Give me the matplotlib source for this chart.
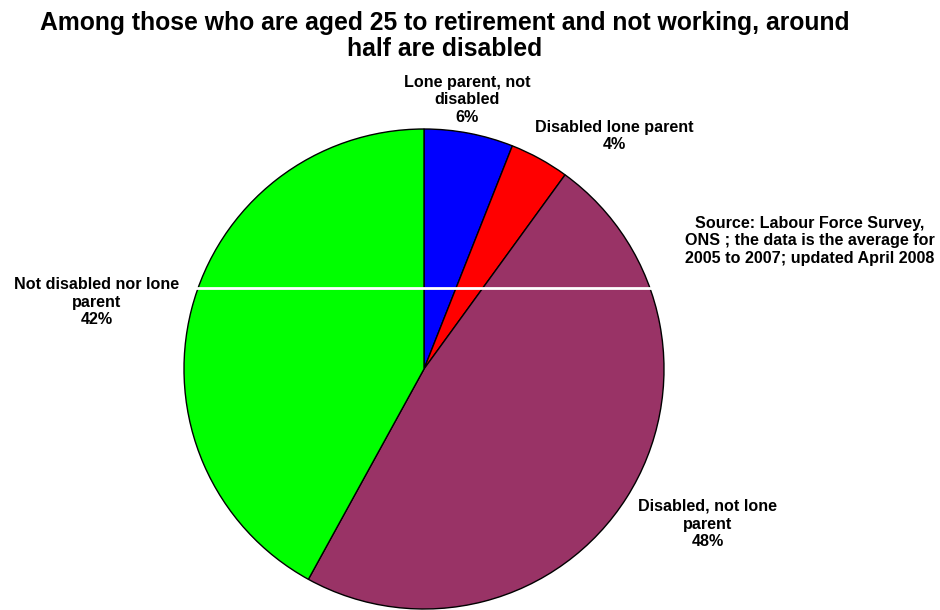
import matplotlib
matplotlib.use('Agg')
import matplotlib.pyplot as plt
from matplotlib.lines import Line2D

# data
labels = ['Lone parent, not\ndisabled', 'Disabled lone parent',
          'Disabled, not lone\nparent', 'Not disabled nor lone\nparent']
shares = [6, 4, 48, 42]
colors = ['#0000FF', '#FF0000', '#993366', '#00FF00']
title = ('Among those who are aged 25 to retirement and not working, around\n'
         'half are disabled')
source = ('Source: Labour Force Survey,\nONS ; the data is the average for\n'
          '2005 to 2007; updated April 2008')

W, H = 940, 610
plt.rcParams['font.family'] = ['Liberation Sans', 'DejaVu Sans']
fig = plt.figure(figsize=(W / 100, H / 100), dpi=100)

# pie centre (424, 369) px, radius 240 px
cx, cy, r = 424, 369, 240
ax = fig.add_axes([(cx - r) / W, (H - cy - r) / H, 2 * r / W, 2 * r / H])
ax.pie(shares, colors=colors, startangle=90, counterclock=False,
       wedgeprops=dict(edgecolor='black', linewidth=1))
ax.set_xlim(-1, 1)
ax.set_ylim(-1, 1)
ax.set_aspect('equal')
ax.axis('off')

def ftext(x, y, s, **kw):
    fig.text(x / W, 1 - y / H, s, ha='center', va='center',
             fontweight='bold', **kw)

ftext(445, 36, title, fontsize=17.8, linespacing=1.12)

# slice labels (position in pixels)
label_pos = [(467, 100), (614, 136), (708, 524), (97, 302)]
for lab, val, (x, y) in zip(labels, shares, label_pos):
    ftext(x, y, f'{lab}\n{val}%', fontsize=11.6, linespacing=1.22)

ftext(810, 241, source, fontsize=11.6, linespacing=1.22)

# white line across the picture
fig.add_artist(Line2D([0, 655 / W], [1 - 288 / H, 1 - 288 / H],
                      transform=fig.transFigure, color='white', linewidth=2))

fig.savefig('out.png', dpi=100, facecolor='white')
